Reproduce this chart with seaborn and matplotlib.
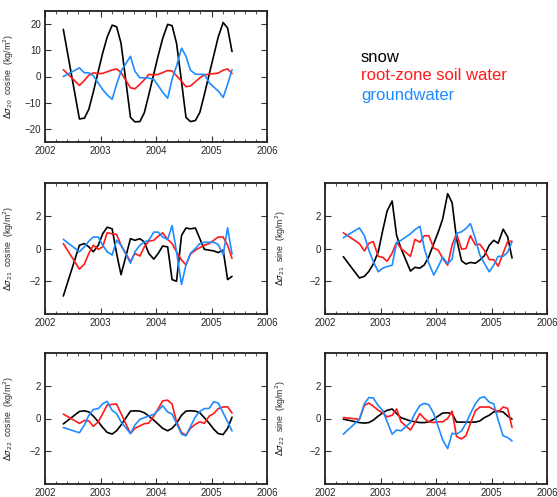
import numpy as np
import pandas as pd
import matplotlib
matplotlib.use("Agg")
import matplotlib.pyplot as plt
from matplotlib.ticker import MultipleLocator
import seaborn as sns

# ======= Data =======
t = [2002.33, 2002.62, 2002.71, 2002.79, 2002.87, 2002.96,
     2003.04, 2003.12, 2003.21, 2003.29, 2003.37, 2003.54, 2003.62, 2003.71, 2003.79, 2003.87, 2003.96,
     2004.04, 2004.12, 2004.21, 2004.29, 2004.37, 2004.46, 2004.54, 2004.62, 2004.71, 2004.79, 2004.87, 2004.96,
     2005.04, 2005.12, 2005.21, 2005.29, 2005.37]

# Δσ20 cosine
c20_snow = [18, -16.2, -15.9, -12.5, -6, 2, 9, 15, 19.6, 19, 12.7, -15.6, -17.3, -17.2, -13.8, -7, 1,
            8, 14.5, 19.9, 19.4, 12.7, -2, -15.6, -17.2, -16.8, -13.7, -7, 1, 8, 15, 20.6, 18.5, 9.5]
c20_soil = [2.6, -3.4, -1.5, 0.5, 1.4, 1.1, 1.2, 1.8, 2.5, 2.9, 1.5, -4.3, -4.7, -3, -1.2, 0.8, 0.6,
            0.8, 1.5, 2.3, 2.1, 0.3, -1.8, -3.9, -3.6, -2, -0.5, 0.6, 0.9, 1.1, 1.3, 2.4, 2.9, 1.1]
c20_gw = [0, 3.3, 1.4, 1.4, 0.3, -2.5, -5, -7, -8.7, -3, 2, 7.7, 2.0, -0.5, -0.5, -0.6, -1.1,
          -3.5, -6, -8.3, -1, 4, 10.8, 7.7, 2.4, 0.9, 0.8, 0.8, -2.4, -4, -5.5, -8, -3, 2.6]

# Δσ21 cosine
c21_snow = [-2.9, 0.2, 0.3, 0.1, -0.2, 0.2, 0.9, 1.3, 1.2, -0.3, -1.6, 0.6, 0.5, 0.6, 0.4, -0.3, -0.65,
            -0.3, 0.15, 0.1, -1.9, -2.0, 0.8, 1.25, 1.2, 1.25, 0.6, -0.05, -0.1, -0.15, -0.25, -0.1, -1.9, -1.7]
c21_soil = [0.3, -1.26, -0.95, -0.3, 0.2, -0.05, 0.1, 0.96, 0.9, 0.86, 0.2, -0.8, -0.3, -0.46, 0.1, 0.45, 0.5,
            0.75, 0.96, 0.55, 0.3, -0.2, -0.7, -1.0, -0.35, -0.1, 0.05, 0.2, 0.3, 0.5, 0.7, 0.7, 0.2, -0.6]
c21_gw = [0.56, -0.2, 0.1, 0.45, 0.7, 0.7, 0.2, -0.2, -0.4, 0.5, 0.2, -0.9, -0.2, 0.2, 0.4, 0.5, 1.0,
          1.0, 0.7, 0.55, 1.4, -0.2, -2.2, -1.0, -0.3, 0.0, 0.3, 0.38, 0.38, 0.38, 0.25, -0.38, 1.26, -0.34]

# Δσ21 sine
s21_snow = [-0.5, -1.8, -1.7, -1.4, -0.95, -0.2, 1.1, 2.3, 2.9, 0.8, 0.0, -1.38, -1.15, -1.2, -1.0, -0.5, 0.3,
            1.0, 1.8, 3.35, 2.8, 0.6, -0.75, -0.95, -0.85, -0.9, -0.7, -0.45, 0.2, 0.5, 0.32, 1.18, 0.72, -0.58]
s21_soil = [0.96, 0.3, -0.15, 0.32, 0.42, -0.48, -0.54, -0.78, -0.28, 0.38, 0.0, -0.48, 0.56, 0.38, 0.78, 0.78, 0.02,
            -0.1, -0.6, -1.02, 0.22, 0.92, -0.04, 0.0, 0.78, 0.22, 0.26, -0.1, -0.68, -0.68, -1.08, -0.28, 0.42, 0.44]
s21_gw = [0.66, 1.26, 0.78, -0.1, -0.8, -1.42, -1.2, -1.1, -1.02, 0.36, 0.5, 0.9, 1.15, 1.36, 0.0, -0.9, -1.62,
          -1.1, -0.54, -0.94, -0.64, 0.92, 1.02, 1.22, 1.52, 0.6, -0.4, -0.9, -1.42, -1.02, -0.48, -0.48, -0.22, 0.42]

# Δσ22 cosine
c22_snow = [-0.33, 0.43, 0.47, 0.4, 0.15, -0.2, -0.55, -0.85, -0.95, -0.75, -0.4, 0.45, 0.47, 0.45, 0.35, 0.15, -0.1,
            -0.35, -0.6, -0.75, -0.6, -0.3, 0.2, 0.45, 0.47, 0.45, 0.35, 0.05, -0.3, -0.65, -0.92, -0.98, -0.6, 0.08]
c22_soil = [0.27, -0.3, -0.12, -0.15, -0.48, -0.2, 0.3, 0.82, 0.86, 0.88, 0.3, -0.92, -0.6, -0.45, -0.32, -0.28, 0.15,
            0.6, 1.08, 1.12, 0.88, -0.2, -0.86, -1.02, -0.6, -0.35, -0.2, -0.3, 0.15, 0.3, 0.6, 0.7, 0.72, 0.33]
c22_gw = [-0.55, -0.87, -0.4, 0.2, 0.55, 0.6, 0.9, 1.04, 0.5, 0.3, -0.2, -0.92, -0.4, -0.05, 0.05, 0.15, 0.25,
          0.5, 0.78, 0.4, 0.27, -0.3, -0.95, -1.06, -0.5, 0.1, 0.43, 0.6, 0.62, 1.02, 0.95, 0.35, -0.2, -0.76]

# Δσ22 sine
s22_snow = [-0.04, -0.25, -0.28, -0.25, -0.1, 0.15, 0.35, 0.5, 0.58, 0.3, 0.05, -0.15, -0.2, -0.25, -0.25, -0.2, -0.05,
            0.15, 0.33, 0.35, 0.3, -0.22, -0.22, -0.22, -0.22, -0.22, -0.15, 0.05, 0.2, 0.4, 0.45, 0.4, 0.15, -0.04]
s22_soil = [0.06, -0.05, 0.8, 0.94, 0.75, 0.5, 0.35, 0.1, 0.2, 0.58, -0.2, -0.7, -0.25, 0.3, 0.0, -0.2, -0.25,
            -0.2, -0.2, 0.0, 0.45, -1.1, -1.25, -1.05, -0.3, 0.47, 0.7, 0.7, 0.7, 0.55, 0.4, 0.7, 0.62, -0.55]
s22_gw = [-0.96, -0.05, 0.9, 1.28, 1.25, 0.78, 0.5, -0.2, -0.96, -0.7, -0.75, -0.25, 0.3, 0.8, 0.92, 0.84, 0.3,
          -0.5, -1.3, -1.84, -0.9, -0.96, -0.76, -0.3, 0.3, 0.9, 1.25, 1.33, 1.0, 0.9, -0.1, -1.06, -1.16, -1.37]

series_names = ["snow", "root-zone soil water", "groundwater"]
series_colors = ["black", "#ff1a1a", "#1e8cff"]

panels = [
    ("20", "cosine", [c20_snow, c20_soil, c20_gw]),
    ("21", "cosine", [c21_snow, c21_soil, c21_gw]),
    ("21", "sine", [s21_snow, s21_soil, s21_gw]),
    ("22", "cosine", [c22_snow, c22_soil, c22_gw]),
    ("22", "sine", [s22_snow, s22_soil, s22_gw]),
]

# ======= Figure =======
sns.set_style("ticks")
plt.rcParams['font.family'] = ['Liberation Sans', 'DejaVu Sans']
plt.rcParams['mathtext.fontset'] = 'dejavusans'

fig = plt.figure(figsize=(5.57, 4.97), dpi=100)
W, H = 557, 497
boxes = [(45, 11), (45, 183), (325, 183), (45, 353), (325, 353)]  # left, top in px
aw, ah = 222, 131

for (deg, kind, vals), (lx, ty) in zip(panels, boxes):
    ax = fig.add_axes([lx / W, 1 - (ty + ah) / H, aw / W, ah / H])
    for name, col, v in zip(series_names, series_colors, vals):
        df = pd.DataFrame({"t": t, "v": v})
        sns.lineplot(data=df, x="t", y="v", color=col, lw=1.2, ax=ax, legend=False)
    ax.set_xlim(2002, 2006)
    if deg == "20":
        ax.set_ylim(-25, 25)
        ax.yaxis.set_major_locator(MultipleLocator(10))
    else:
        ax.set_ylim(-4, 4)
        ax.set_yticks([-2, 0, 2])
    ax.xaxis.set_major_locator(MultipleLocator(1))
    ax.xaxis.set_minor_locator(MultipleLocator(0.2))
    ax.tick_params(which="both", direction="in", top=True, right=True,
                   labelsize=7, pad=3, color="#333333")
    ax.tick_params(which="major", length=4, width=0.8)
    ax.tick_params(which="minor", length=2, width=0.6)
    for sp in ax.spines.values():
        sp.set_linewidth(1.3)
        sp.set_color("#222222")
    ax.set_xlabel("")
    ax.set_ylabel(r"$\Delta\sigma_{%s}$  %s  (kg/m$^2$)" % (deg, kind), fontsize=6.3)
    ax.yaxis.set_label_coords(-0.13 if lx < 100 else -0.165, 0.5)

# legend as coloured text
for name, col, yy in zip(series_names, series_colors, [57, 76, 96]):
    fig.text(361 / W, 1 - yy / H, name, color=col, fontsize=12, va="center", ha="left")

fig.savefig("out.png", dpi=100)
